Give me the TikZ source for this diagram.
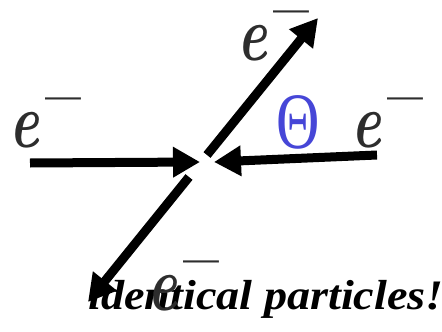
\documentclass[tikz,border=0pt]{standalone}
\usepackage{fontspec}
\newfontfamily\thetafont{Liberation Serif}
\newfontfamily\notefont{Liberation Serif}
\usetikzlibrary{arrows.meta}
\definecolor{egray}{RGB}{45,45,45}
\definecolor{thetablue}{RGB}{70,70,215}
\newcommand{\elabel}{\scalebox{0.72}[1]{\textit{\textbf{e}}}\hspace{6pt}\raisebox{31pt}{\fontsize{64}{64}\selectfont\bfseries –}}
\tikzset{
  arr/.style={line width=9pt, -{Triangle[length=27pt,width=29pt]}},
  elab/.style={anchor=base west, inner sep=0pt, text=egray, font=\fontsize{78}{78}\selectfont},
}
\begin{document}
\begin{tikzpicture}[x=1pt,y=-1pt]
\useasboundingbox (0,0) rectangle (442,332);
\node[anchor=base west, inner sep=0pt, font=\notefont\bfseries\itshape\fontsize{42}{42}\selectfont, xscale=1.1] (note) at (88,309) {identical particles!};
\node[elab] (eL) at (9,147) {\elabel};
\node[elab] (eT) at (237,60) {\elabel};
\node[elab] (eR) at (351,147) {\elabel};
\node[elab] (eB) at (147,310) {\elabel};
\node[inner sep=0pt, text=thetablue, font=\thetafont\fontsize{80}{80}\selectfont, xscale=0.75] (theta) at (298,122) {Θ};
\coordinate (Ls) at (30,163);
\coordinate (Lt) at (200,162);
\coordinate (Rs) at (377,155);
\coordinate (Rt) at (214,162);
\coordinate (Us) at (207,155);
\coordinate (Ut) at (318,18);
\coordinate (Ds) at (189,177);
\coordinate (Dt) at (88,302);
\draw[arr] (Ls) -- (Lt);
\draw[arr] (Rs) -- (Rt);
\draw[arr] (Us) -- (Ut);
\draw[arr] (Ds) -- (Dt);
\end{tikzpicture}
\end{document}
